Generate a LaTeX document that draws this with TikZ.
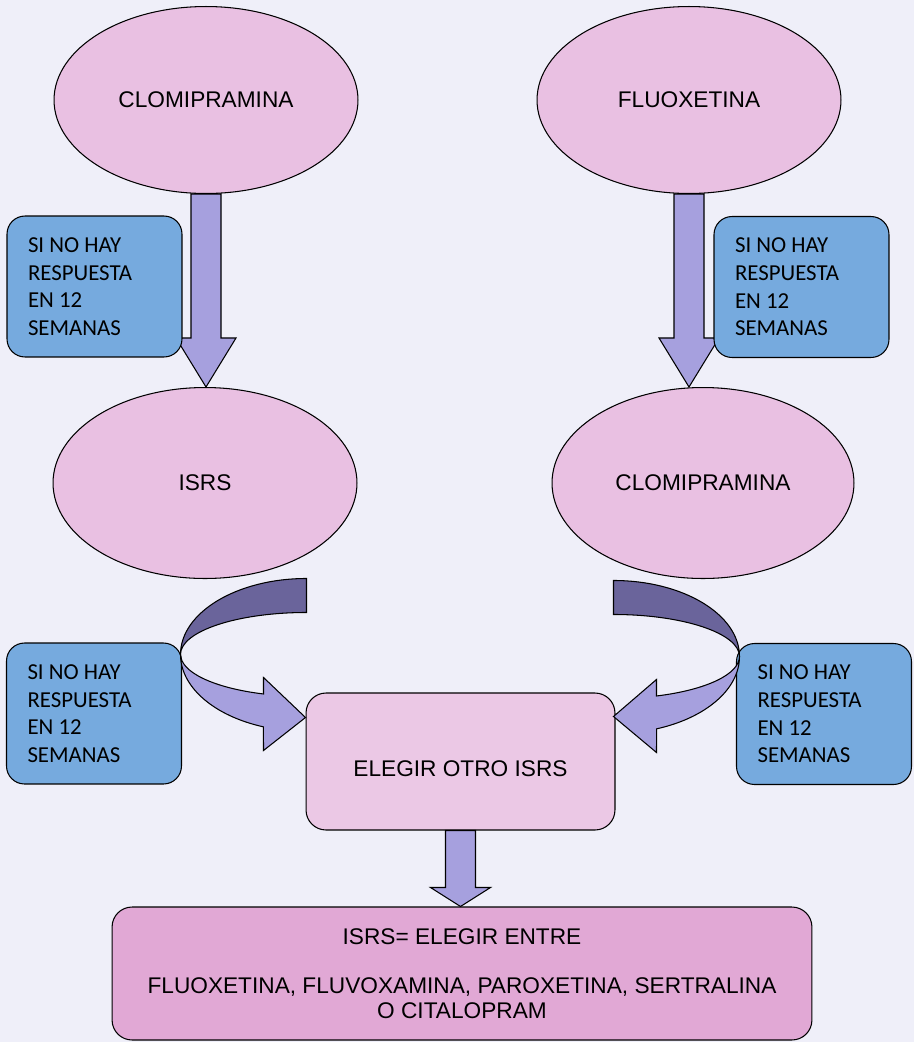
\documentclass[tikz,border=0pt]{standalone}
\usepackage{fontspec}
\setmainfont{Liberation Sans}
\newfontfamily\calibri{Carlito}
\usepackage{tikz}
\usetikzlibrary{shapes}
\usetikzlibrary{calc}
\definecolor{fondo}{RGB}{239,239,249}
\definecolor{rosa}{RGB}{233,192,226}
\definecolor{rosaclaro}{RGB}{235,200,229}
\definecolor{rosaosc}{RGB}{225,168,213}
\definecolor{azul}{RGB}{118,170,222}
\definecolor{lila}{RGB}{166,160,222}
\definecolor{lilaosc}{RGB}{106,100,155}
\tikzstyle{elipse} = [ellipse, draw=black, fill=rosa, minimum width=6.08cm, minimum height=3.74cm, font=\fontsize{12.9}{15}\selectfont]
\tikzstyle{aviso} = [rectangle, rounded corners=0.36cm, draw=black, fill=azul, text width=2.66cm, inner xsep=0.42cm, minimum height=2.82cm, align=flush left, font=\calibri\fontsize{13}{15.7}\selectfont]
\tikzstyle{caja} = [rectangle, rounded corners=0.4cm, draw=black, fill=rosaclaro, align=center, font=\fontsize{12.9}{14.2}\selectfont]
\tikzstyle{flecha} = [draw=black, fill=lila, line width=0.6pt]
\newcommand{\flechaV}[3]{%
	\coordinate (punta) at (#1.south |- #2.north);
	\draw[flecha] ($(#1.south)+(-15,0)$) -- ($(#1.south)+(15,0)$) -- ($(punta)+(15,-#3)$) -- ($(punta)+(30,-#3)$) -- (punta) -- ($(punta)+(-30,-#3)$) -- ($(punta)+(-15,-#3)$) -- cycle;}

\begin{document}
\begin{tikzpicture}[x=0.02cm, y=-0.02cm, line width=0.6pt]
				\fill[fondo] (0,0) rectangle (914,1042);
				\useasboundingbox (0,0) rectangle (914,1042);
				
				\node[elipse] (clomiA) at (206,100) {CLOMIPRAMINA};
				\node[elipse] (fluox) at (689,100) {FLUOXETINA};
				\node[elipse, minimum height=3.82cm] (isrs) at (205,483) {ISRS};
				\node[elipse, minimum height=3.82cm, minimum width=6.04cm] (clomiB) at (703,483) {CLOMIPRAMINA};
				
				\flechaV{clomiA}{isrs}{49}
				\flechaV{fluox}{clomiB}{49}
				
				\node[aviso] (avisoA) at (94.5,286.5) {SI NO HAY\\RESPUESTA\\EN 12\\SEMANAS};
				\node[aviso] (avisoB) at (801.5,287) {SI NO HAY\\RESPUESTA\\EN 12\\SEMANAS};
				\node[aviso] (avisoC) at (94,713.5) {SI NO HAY\\RESPUESTA\\EN 12\\SEMANAS};
				\node[aviso] (avisoD) at (824,714) {SI NO HAY\\RESPUESTA\\EN 12\\SEMANAS};
				
				\node[caja, minimum width=6.18cm, minimum height=2.74cm, text height=0.58cm, text depth=0cm] (elegir) at (460.5,761.5) {ELEGIR OTRO ISRS};
				\node[caja, fill=rosaosc, minimum width=14cm, minimum height=2.66cm] (final) at (462,973.5) {ISRS= ELEGIR ENTRE\\[13.5pt]
					FLUOXETINA, FLUVOXAMINA, PAROXETINA, SERTRALINA\\O CITALOPRAM};
				
				\flechaV{elegir}{final}{19}
				
				\coordinate (cI) at ($(elegir.north west)+(1,-38)$);
				\draw[flecha, fill=lilaosc] ($(cI)+(0,-76)$) arc[start angle=270, end angle=180, x radius=126, y radius=76] arc[start angle=180, end angle=270, x radius=126, y radius=42] -- cycle;
				\draw[flecha] ($(cI)+(-126,0)$) arc[start angle=180, end angle=110, x radius=126, y radius=77] -- ($(cI)+(-43,96)$) -- ($(elegir.north west)+(0,25)$) -- ($(cI)+(-43,23)$) -- ($(cI)+(-43,39.5)$) arc[start angle=110, end angle=180, x radius=126, y radius=42] -- cycle;
				
				\coordinate (cD) at ($(elegir.north east)+(-2,-36)$);
				\draw[flecha, fill=lilaosc] ($(cD)+(0,-76)$) arc[start angle=270, end angle=360, x radius=126, y radius=76] arc[start angle=0, end angle=-90, x radius=126, y radius=42] -- cycle;
				\draw[flecha] ($(cD)+(126,0)$) arc[start angle=0, end angle=70, x radius=126, y radius=77] -- ($(cD)+(43,96)$) -- ($(elegir.north east)+(-2,24)$) -- ($(cD)+(43,23)$) -- ($(cD)+(43,39.5)$) arc[start angle=70, end angle=0, x radius=126, y radius=42] -- cycle;
			\end{tikzpicture}
\end{document}
